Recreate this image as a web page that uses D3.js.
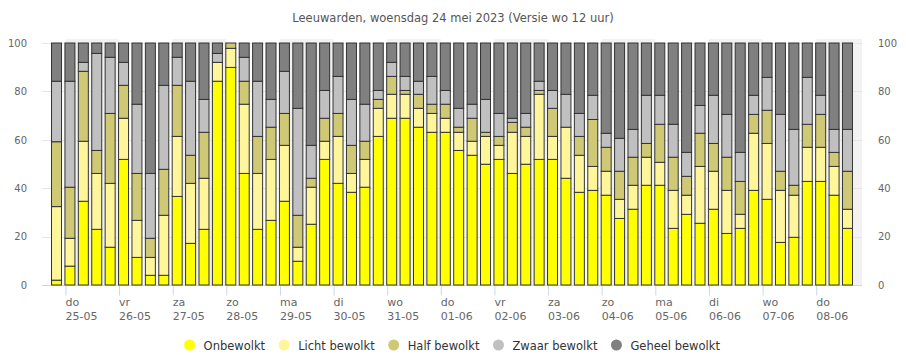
<!DOCTYPE html>
<html>
<head>
<meta charset="utf-8">
<script src="https://cdn.jsdelivr.net/npm/d3@7/dist/d3.min.js"></script>
<style>
  html, body { margin: 0; padding: 0; background: #fff; }
  svg { display: block; font-family: "DejaVu Sans", sans-serif; }
</style>
</head>
<body>
<svg id="chart" width="906" height="355"></svg>
<script>
// ---------- data ----------
const title = "Leeuwarden, woensdag 24 mei 2023 (Versie wo 12 uur)";
const dayNames = ["do","vr","za","zo","ma","di","wo","do","vr","za","zo","ma","di","wo","do"];
const dayDates = ["25-05","26-05","27-05","28-05","29-05","30-05","31-05","01-06","02-06","03-06","04-06","05-06","06-06","07-06","08-06"];
const yTicks = [0, 20, 40, 60, 80, 100];
const seriesNames = ["Onbewolkt", "Licht bewolkt", "Half bewolkt", "Zwaar bewolkt", "Geheel bewolkt"];
const seriesColors = ["#ffff00", "#fff59a", "#cfc874", "#c0c0c0", "#808080"];

// one value per 6-hour period, 60 periods
const onbewolkt = [2,7.8,34.6,23,15.6,51.9,11.4,4,4,36.6,17.2,23,84.2,89.9,46.1,23,26.7,34.6,9.8,25.1,51.9,42,38.3,40.4,61.4,68.9,68.9,65.2,63.1,63.1,55.6,53.6,49.9,51.9,46.1,49.9,51.9,51.9,44.1,38.3,39.1,37.1,27.5,31.3,41.2,41.2,23.4,29.2,25.5,31.3,21.3,23.4,39.1,35.4,17.6,19.7,42.8,42.8,37.1,23.4];
const lichtBewolkt = [30.4,11.5,24.8,23.1,26.4,17,15.3,7.4,24.8,24.8,24.8,21.1,7.8,7.9,28.6,23.1,25.2,23.1,5.8,15.3,7.5,19.4,7.8,11.5,11.6,9.9,9.9,7.8,7.8,5.8,7.5,5.8,11.5,5.8,17,11.5,26.9,9.5,21.1,15.3,9.9,9.9,7.9,9.9,11.6,9.5,15.7,7.9,23.5,15.7,17.8,5.8,23.6,23.1,21.5,17.4,14.1,14.1,11.9,7.9];
const halfBewolkt = [26.8,21.1,28.9,9.5,28.9,13.6,19.4,7.9,19,21.1,11.6,19,0,2.2,9.5,15.3,13.3,13.2,13.2,3.7,9.5,9.5,11.6,7.5,3.7,7.4,1.6,5.8,3.8,5.8,2.1,9.5,1.7,3.7,4.1,3.8,1.6,11.6,0,7.8,19.4,9.9,11.6,11.6,5.7,15.7,13.7,7.8,13.7,11.5,13.7,13.6,7.8,13.7,7.9,4.1,9.5,13.6,5.8,15.7];
const zwaarBewolkt = [25,43.8,3.7,40.1,23.2,9.5,28.6,26.8,34.7,11.6,30.6,13.6,3.7,0,9.9,22.8,11.5,17.4,44.2,13.6,11.5,15.3,19,15.3,3.7,5.8,5.8,5.4,11.5,5.7,7.8,5.8,13.6,9.5,1.7,5.7,3.8,7.4,13.6,9.5,10,5.8,13.6,11.5,19.9,12,13.6,9.9,11.5,19.9,17.7,12,7.9,13.6,23.5,23.1,19.4,7.9,9.5,17.3];
const geheelBewolkt = [15.8,15.8,8,4.3,5.9,8,25.3,53.9,17.5,5.9,15.8,23.3,4.3,0,5.9,15.8,23.3,11.7,27,42.3,19.6,13.8,23.3,25.3,19.6,8,13.8,15.8,13.8,19.6,27,25.3,23.3,29.1,31.1,29.1,15.8,19.6,21.2,29.1,21.6,37.3,39.4,35.7,21.6,21.6,33.6,45.2,25.8,21.6,29.5,45.2,21.6,14.2,29.5,35.7,14.2,21.6,35.7,35.7];

const seriesValues = [onbewolkt, lichtBewolkt, halfBewolkt, zwaarBewolkt, geheelBewolkt];

// period start: 24-05 20:00, every 6 hours
const firstPeriod = new Date(2023, 4, 24, 20);
const periods = onbewolkt.map((_, i) => d3.timeHour.offset(firstPeriod, 6 * i));
const dayTicks = dayNames.map((_, i) => new Date(2023, 4, 25 + i));

// ---------- layout ----------
const svg = d3.select("#chart");
const plotLeft = 42, plotRight = 862, plotTop = 43, plotBottom = 285;

const x = d3.scaleTime()
  .domain([d3.timeMinute.offset(periods[0], -390), d3.timeMinute.offset(periods[periods.length - 1], 390)])
  .range([plotLeft, plotRight]);
const y = d3.scaleLinear().domain([0, 100]).range([plotBottom, plotTop]);
const barW = 10;

// title
svg.append("text")
  .attr("x", 453).attr("y", 21.5)
  .attr("text-anchor", "middle")
  .attr("fill", "#555")
  .style("font-size", "11.5px")
  .text(title);

// alternating day bands
const bands = svg.append("g");
dayTicks.forEach((d, i) => {
  if (i % 2 === 0) {
    const x0 = x(d);
    const x1 = Math.min(x(d3.timeDay.offset(d, 1)), plotRight);
    bands.append("rect")
      .attr("x", x0).attr("y", 39)
      .attr("width", x1 - x0).attr("height", plotBottom - 39)
      .attr("fill", "#f2f2f2");
  }
});

// grid
svg.append("g").selectAll("line").data(yTicks.filter(v => v > 0)).join("line")
  .attr("x1", plotLeft).attr("x2", plotRight)
  .attr("y1", d => Math.round(y(d)) + 0.5).attr("y2", d => Math.round(y(d)) + 0.5)
  .attr("stroke", "#e6e6e6").attr("stroke-width", 1);

// y axes labels (left & right)
const yLeft = d3.axisLeft(y).tickValues(yTicks).tickSize(0).tickPadding(0);
svg.append("g").attr("transform", `translate(27,0)`).call(yLeft)
  .call(g => g.select(".domain").remove())
  .call(g => g.selectAll("text").attr("fill", "#666").style("font-size", "10px").style("font-family", "DejaVu Sans"));
const yRight = d3.axisRight(y).tickValues(yTicks).tickSize(0).tickPadding(0);
svg.append("g").attr("transform", `translate(878,0)`).call(yRight)
  .call(g => g.select(".domain").remove())
  .call(g => g.selectAll("text").attr("fill", "#666").style("font-size", "10px").style("font-family", "DejaVu Sans"));

// x axis
const xAxis = d3.axisBottom(x).tickValues(dayTicks).tickSize(10).tickFormat("");
const xg = svg.append("g").attr("transform", `translate(0,${plotBottom + 0.5})`).call(xAxis);
xg.select(".domain").attr("stroke", "#ccd6eb").attr("d", `M${plotLeft},0H${plotRight}`);
xg.selectAll(".tick line").attr("stroke", "#ccd6eb");
const xl = svg.append("g");
dayTicks.forEach((d, i) => {
  const t = xl.append("text")
    .attr("x", x(d)).attr("y", 306)
    .attr("fill", "#666").style("font-size", "11px");
  t.append("tspan").attr("x", x(d)).attr("dy", 0).text(dayNames[i]);
  t.append("tspan").attr("x", x(d)).attr("dy", 13.5).text(dayDates[i]);
});

// stacked bars
const stackData = periods.map((p, i) => {
  const o = { t: p };
  seriesNames.forEach((s, k) => o[s] = seriesValues[k][i]);
  return o;
});
const stacked = d3.stack().keys(seriesNames)(stackData);
svg.append("g").selectAll("g").data(stacked).join("g")
  .attr("fill", (d, k) => seriesColors[k])
  .selectAll("rect").data(d => d).join("rect")
  .attr("x", d => x(d.data.t) - barW / 2)
  .attr("y", d => y(d[1]))
  .attr("width", barW)
  .attr("height", d => Math.max(0, y(d[0]) - y(d[1])))
  .attr("stroke", "#333").attr("stroke-width", 1);

// legend
const legend = svg.append("g");
let lx = 0;
seriesNames.forEach((s, k) => {
  const g = legend.append("g");
  g.append("circle").attr("cx", lx + 5.5).attr("cy", 0).attr("r", 5.5).attr("fill", seriesColors[k]);
  const t = g.append("text").attr("x", lx + 19.5).attr("y", 4.5)
    .attr("fill", "#333").style("font-size", "11.5px").text(s);
  const w = t.node().getComputedTextLength();
  lx += 19.5 + w + 13.5;
});
const totalW = lx - 13.5;
legend.attr("transform", `translate(${452 - totalW / 2},345)`);
</script>
</body>
</html>
